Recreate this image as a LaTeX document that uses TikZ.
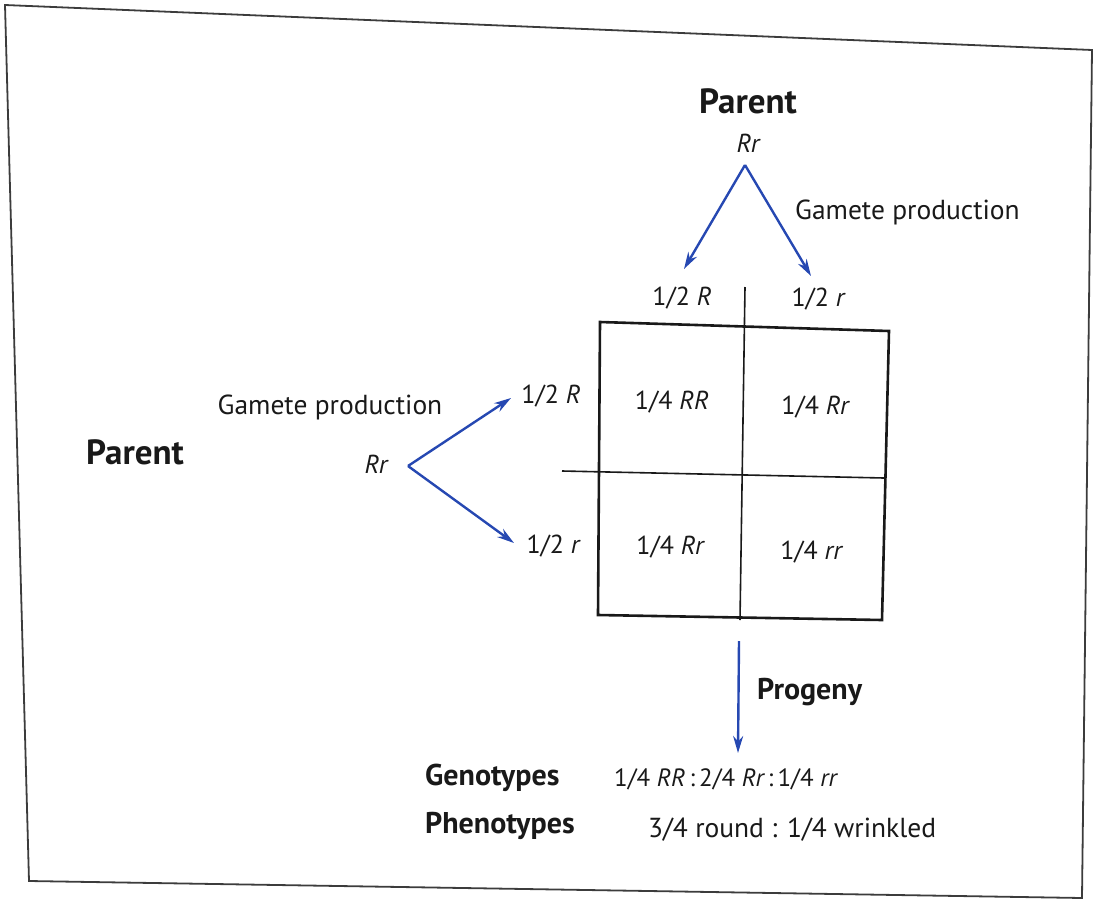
\documentclass[tikz,border=0pt]{standalone}
\usepackage{fontspec}
\setmainfont{PT Sans}
\usetikzlibrary{arrows.meta}
\definecolor{arrowblue}{RGB}{38,72,178}
\definecolor{ink}{RGB}{25,25,25}
\tikzset{
  lbl/.style={text=ink, inner sep=0pt, font=\fontsize{26}{30}\selectfont},
  wide/.style={text=ink, inner sep=0pt, font=\fontsize{27.5}{32}\selectfont},
  head/.style={text=ink, inner sep=0pt, font=\fontsize{30}{36}\selectfont\bfseries},
  bighead/.style={text=ink, inner sep=0pt, font=\fontsize{35}{42}\selectfont\bfseries},
  gam/.style={draw=arrowblue, line width=2.4pt, -{Stealth[length=17pt,width=10pt]}},
  frame/.style={draw=ink!85, line width=1.8pt},
  grid/.style={draw=ink, line width=2.6pt},
  divider/.style={draw=ink, line width=1.6pt}
}
\begin{document}
\begin{tikzpicture}[x=1pt,y=-1pt]
\useasboundingbox (0,0) rectangle (1093,900);
% outer frame
\draw[frame] (5,5) -- (1092,50) -- (1082,898) -- (29,881) -- cycle;

% top parent and its gametes
\node[bighead] (ptop) at (748,101) {Parent};
\node[lbl] (rrtop) at (748,143) {\itshape Rr};
\coordinate (apexT) at (745,165);
\coordinate (tipTL) at (684,269);
\coordinate (tipTR) at (811,276);
\draw[gam] (apexT) -- (tipTL);
\draw[gam] (apexT) -- (tipTR);
\node[wide, anchor=west] (gpT) at (795,212) {Gamete production};
\node[lbl] (gR) at (682,298) {1/2 \itshape R};
\node[lbl] (gr) at (818,299) {1/2 \itshape r};

% left parent and its gametes
\node[bighead] (pleft) at (135,452) {Parent};
\node[lbl] (rrleft) at (376,464) {\itshape Rr};
\node[wide] (gpL) at (330,407) {Gamete production};
\coordinate (apexL) at (408,466);
\coordinate (tipLU) at (511,398);
\coordinate (tipLD) at (514,543);
\draw[gam] (apexL) -- (tipLU);
\draw[gam] (apexL) -- (tipLD);
\node[lbl] (eR) at (551,396) {1/2 \itshape R};
\node[lbl] (er) at (553,546) {1/2 \itshape r};

% Punnett square
\coordinate (sqTL) at (600,322);
\coordinate (sqTR) at (889,331);
\coordinate (sqBR) at (882,620);
\coordinate (sqBL) at (598,615);
\draw[grid, line join=miter] (sqTL) -- (sqTR) -- (sqBR) -- (sqBL) -- cycle;
\coordinate (vTop) at (745,287);
\coordinate (vBot) at (740,620);
\coordinate (hL) at (562,471);
\coordinate (hR) at (884,478);
\draw[divider] (vTop) -- (vBot);
\draw[divider] (hL) -- (hR);
\node[lbl] (cRR) at (672,402) {1/4 \itshape RR};
\node[lbl] (cRr1) at (815,407) {1/4 \itshape Rr};
\node[lbl] (cRr2) at (670,547) {1/4 \itshape Rr};
\node[lbl] (crr) at (811,552) {1/4 \itshape rr};

% progeny
\coordinate (progTop) at (739,641);
\coordinate (progTip) at (738,753);
\draw[gam] (progTop) -- (progTip);
\node[head, anchor=west] (prog) at (757,692) {Progeny};

\node[head, anchor=west] (geno) at (425,778) {Genotypes};
\node[lbl, anchor=west, font=\fontsize{25}{30}\selectfont] (genoR) at (614,779) {1/4 \itshape RR\upshape\,:\,2/4 \itshape Rr\upshape\,:\,1/4 \itshape rr};
\node[head, anchor=west] (pheno) at (425,826) {Phenotypes};
\node[wide, anchor=west] (phenoR) at (648,830) {3/4 round : 1/4 wrinkled};
\end{tikzpicture}
\end{document}
